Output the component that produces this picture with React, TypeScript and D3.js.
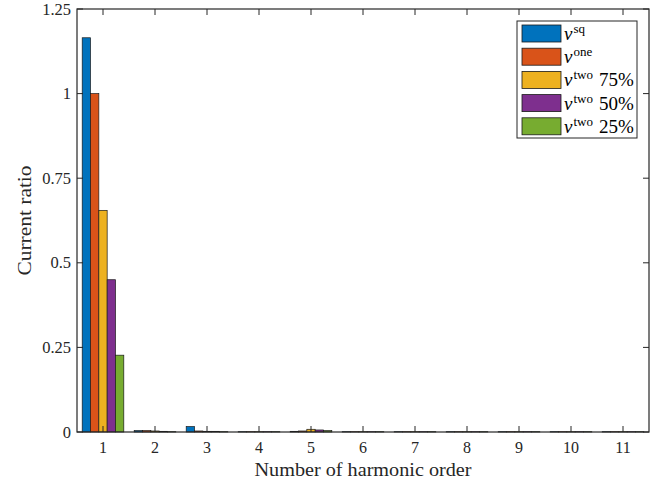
import React from "react";
import * as d3 from "d3";

// Harmonic spectrum of the current ratio for each modulation scheme
const harmonics = [1, 2, 3, 4, 5, 6, 7, 8, 9, 10, 11];
const vSq = [1.165, 0.004, 0.016, 0.001, 0.002, 0.001, 0.001, 0.001, 0.001, 0.001, 0.001];
const vOne = [1.0, 0.004, 0.003, 0.001, 0.003, 0.001, 0.001, 0.001, 0.001, 0.001, 0.001];
const vTwo75 = [0.655, 0.003, 0.002, 0.001, 0.008, 0.001, 0.001, 0.001, 0.001, 0.001, 0.001];
const vTwo50 = [0.45, 0.002, 0.002, 0.001, 0.006, 0.001, 0.001, 0.001, 0.001, 0.001, 0.001];
const vTwo25 = [0.227, 0.001, 0.001, 0.001, 0.004, 0.001, 0.001, 0.001, 0.001, 0.001, 0.001];

const seriesNames = ["sq", "one", "two", "two", "two"];
const seriesSuffix = ["", "", "75%", "50%", "25%"];
const seriesValues = [vSq, vOne, vTwo75, vTwo50, vTwo25];
const seriesColors = ["#0072BD", "#D95319", "#EDB120", "#7E2F8E", "#77AC30"];

const yTicks = [0, 0.25, 0.5, 0.75, 1, 1.25];
const yTickLabels = ["0", "0.25", "0.5", "0.75", "1", "1.25"];

const W = 662;
const H = 485;
const left = 77;
const right = 649;
const top = 9;
const bottom = 432;
const FONT = "'Liberation Serif', 'Times New Roman', serif";

export default function App() {
  const x = d3.scaleLinear().domain([0.5, 11.5]).range([left, right]);
  const y = d3.scaleLinear().domain([0, 1.25]).range([bottom, top]);
  const groupWidth = 0.8;
  const n = seriesValues.length;
  const bw = groupWidth / n;
  const tickLen = 6;

  return (
    <svg
      width={W}
      height={H}
      style={{ position: "absolute", left: 0, top: 0, background: "#fff" }}
      fontFamily={FONT}
    >
      <rect x={0} y={0} width={W} height={H} fill="#fff" />
      {/* bars */}
      {seriesValues.map((vals, j) =>
        vals.map((v, i) => {
          const x0 = x(harmonics[i] - groupWidth / 2 + j * bw);
          const x1 = x(harmonics[i] - groupWidth / 2 + (j + 1) * bw);
          return (
            <rect
              key={`${j}-${i}`}
              x={x0}
              y={y(v)}
              width={x1 - x0}
              height={y(0) - y(v)}
              fill={seriesColors[j]}
              stroke="#1a1a1a"
              strokeWidth={0.7}
            />
          );
        })
      )}
      {/* axes box */}
      <rect x={left} y={top} width={right - left} height={bottom - top} fill="none" stroke="#262626" strokeWidth={1.2} />
      {/* x ticks */}
      {harmonics.map((h) => (
        <g key={h}>
          <line x1={x(h)} x2={x(h)} y1={bottom} y2={bottom - tickLen} stroke="#262626" strokeWidth={1} />
          <line x1={x(h)} x2={x(h)} y1={top} y2={top + tickLen} stroke="#262626" strokeWidth={1} />
          <text x={x(h)} y={bottom + 21} textAnchor="middle" fontSize={16} fill="#262626">
            {h}
          </text>
        </g>
      ))}
      {/* y ticks */}
      {yTicks.map((t, i) => (
        <g key={t}>
          <line x1={left} x2={left + tickLen} y1={y(t)} y2={y(t)} stroke="#262626" strokeWidth={1} />
          <line x1={right} x2={right - tickLen} y1={y(t)} y2={y(t)} stroke="#262626" strokeWidth={1} />
          <text x={left - 6} y={y(t) + 5.5} textAnchor="end" fontSize={16.5} fill="#262626">
            {yTickLabels[i]}
          </text>
        </g>
      ))}
      {/* axis labels */}
      <text
        x={(left + right) / 2}
        y={476}
        textAnchor="middle"
        fontSize={18}
        textLength={217}
        lengthAdjust="spacingAndGlyphs"
        fill="#262626"
      >
        Number of harmonic order
      </text>
      <text
        transform={`translate(31, ${(top + bottom) / 2}) rotate(-90)`}
        textAnchor="middle"
        fontSize={19}
        textLength={110}
        lengthAdjust="spacingAndGlyphs"
        fill="#262626"
      >
        Current ratio
      </text>
      {/* legend */}
      <g>
        <rect x={517} y={21} width={120} height={117} fill="#fff" stroke="#262626" strokeWidth={1} />
        {seriesNames.map((name, j) => {
          const ry = 25 + j * 23.2;
          return (
            <g key={j}>
              <rect x={522} y={ry} width={39} height={17} fill={seriesColors[j]} stroke="#1a1a1a" strokeWidth={0.8} />
              <text x={564} y={ry + 15} fontSize={19} fill="#000">
                <tspan fontStyle="italic">v</tspan>
                <tspan fontSize={13} dy={-7} dx={1}>{name}</tspan>
                {seriesSuffix[j] && (
                  <tspan fontSize={19} dy={7} dx={6}>
                    {seriesSuffix[j]}
                  </tspan>
                )}
              </text>
            </g>
          );
        })}
      </g>
    </svg>
  );
}
